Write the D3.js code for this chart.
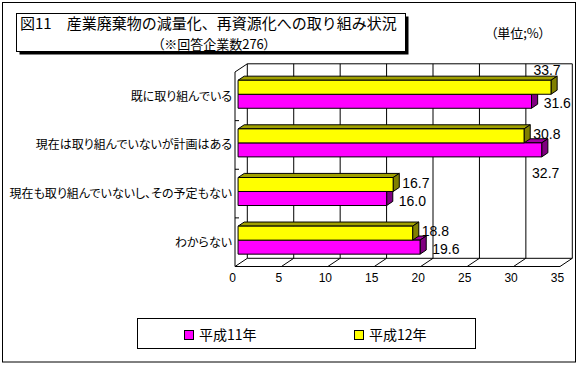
<!DOCTYPE html>
<html>
<head>
<meta charset="utf-8">
<script src="https://cdn.jsdelivr.net/npm/d3@7"></script>
<style>
    body { margin: 0; background: #fff; }
    svg text { font-family: "Noto Sans CJK JP", sans-serif; font-feature-settings: "palt"; fill: #000; }
    svg text.num { font-family: "Liberation Sans", Arial, sans-serif; font-feature-settings: normal; }
    svg text.title { font-feature-settings: normal; }
</style>
</head>
<body>
<svg id="chart" width="580" height="366"></svg>
<script>
/* ------------------------- DATA ------------------------- */

let categories = ["既に取り組んでいる", "現在は取り組んでいないが計画はある", "現在も取り組んでいないし、その予定もない", "わからない"]
let seriesNames = ["平成11年", "平成12年"]
let h11 = [31.6, 32.7, 16.0, 19.6]
let h12 = [33.7, 30.8, 16.7, 18.8]
let tickValues = [0, 5, 10, 15, 20, 25, 30, 35]

let colors = { "平成11年": "#ff00ff", "平成12年": "#ffff00" }
let sideColors = { "平成11年": "#800080", "平成12年": "#808000" }
let topColors = { "平成11年": "#a000a0", "平成12年": "#a0a000" }

/* ------------------------- LAYOUT ------------------------- */

let svg = d3.select("#chart")

let front = { left: 235, right: 560, top: 72, bottom: 266.5 }
let depth = { dx: 12.3, dy: -8.2 }      // spostamento del piano posteriore
let barZ = [0.25, 0.75]                  // profondita' della barra (frazione)

let x = d3.scaleLinear().domain([0, 35]).range([front.left, front.right])
let y = d3.scaleBand().domain(categories).range([front.top, front.bottom])
// serie in basso = 平成11年, in alto = 平成12年
let ySeries = d3.scaleBand().domain(["平成12年", "平成11年"]).range([0, y.bandwidth()]).paddingOuter(0.736)

function proj(px, py, z) { return [px + depth.dx * z, py + depth.dy * z] }

/* ------------------------- FRAMES & TITLE ------------------------- */

svg.append("rect").attr("x", 2.5).attr("y", 2.5).attr("width", 573).attr("height", 359.5)
    .attr("fill", "#fff").attr("stroke", "#000")

svg.append("rect").attr("x", 19.5).attr("y", 16.5).attr("width", 389).attr("height", 38).attr("fill", "#000")
svg.append("rect").attr("x", 16.5).attr("y", 13.5).attr("width", 389).attr("height", 38)
    .attr("fill", "#fff").attr("stroke", "#000")

svg.append("text").attr("class", "title").attr("x", 20).attr("y", 29).attr("font-size", 15)
    .text("図11　産業廃棄物の減量化、再資源化への取り組み状況")
svg.append("text").attr("x", 214).attr("y", 49).attr("font-size", 13).attr("text-anchor", "middle")
    .text("（※回答企業数276）")
svg.append("text").attr("x", 518).attr("y", 38).attr("font-size", 13).attr("text-anchor", "middle")
    .text("（単位;%）")

/* ------------------------- WALLS & GRID ------------------------- */

let grid = svg.append("g").attr("stroke", "#000").attr("stroke-width", 1).attr("fill", "none")

// parete di fondo: linee verticali
grid.selectAll("line.back")
    .data(tickValues)
    .enter().append("line")
        .attr("x1", function (d) { return proj(x(d), 0, 1)[0] })
        .attr("x2", function (d) { return proj(x(d), 0, 1)[0] })
        .attr("y1", proj(0, front.top, 1)[1])
        .attr("y2", proj(0, front.bottom, 1)[1])

grid.append("line")
    .attr("x1", proj(x(0), 0, 1)[0]).attr("x2", proj(x(35), 0, 1)[0])
    .attr("y1", proj(0, front.top, 1)[1]).attr("y2", proj(0, front.top, 1)[1])
grid.append("line")
    .attr("x1", proj(x(0), 0, 1)[0]).attr("x2", proj(x(35), 0, 1)[0])
    .attr("y1", proj(0, front.bottom, 1)[1]).attr("y2", proj(0, front.bottom, 1)[1])

// pavimento: diagonali
grid.selectAll("line.floor")
    .data(tickValues)
    .enter().append("line")
        .attr("x1", function (d) { return x(d) })
        .attr("y1", front.bottom)
        .attr("x2", function (d) { return proj(x(d), front.bottom, 1)[0] })
        .attr("y2", proj(0, front.bottom, 1)[1])

grid.append("line").attr("x1", x(0)).attr("x2", x(35)).attr("y1", front.bottom).attr("y2", front.bottom)
grid.append("line").attr("x1", x(0)).attr("x2", x(0)).attr("y1", front.top).attr("y2", front.bottom)
grid.append("line").attr("x1", x(0)).attr("y1", front.top)
    .attr("x2", proj(x(0), front.top, 1)[0]).attr("y2", proj(x(0), front.top, 1)[1])

// tacche tra le categorie
grid.selectAll("line.cat")
    .data(categories.slice(1))
    .enter().append("line")
        .attr("x1", x(0)).attr("x2", x(0) + 4)
        .attr("y1", function (d) { return y(d) })
        .attr("y2", function (d) { return y(d) })

/* ------------------------- AXES ------------------------- */

let xAxis = svg.append("g")
    .attr("transform", "translate(-3," + front.bottom + ")")
    .call(d3.axisBottom(x).tickValues(tickValues).tickSize(0).tickPadding(6.5))
xAxis.select(".domain").remove()
xAxis.selectAll("text").attr("class", "num").attr("font-size", 12)
    .style("font-family", "'Liberation Sans', Arial, sans-serif")

svg.selectAll("text.cat")
    .data(categories)
    .enter().append("text")
        .attr("x", 232)
        .attr("y", function (d) { return y(d) + y.bandwidth() / 2 + 4.5 })
        .attr("text-anchor", "end")
        .attr("font-size", 12)
        .text(function (d) { return d })

/* ------------------------- BARS ------------------------- */

let bars = []
categories.forEach(function (c, i) {
    bars.push({ cat: c, serie: "平成11年", value: h11[i] })
    bars.push({ cat: c, serie: "平成12年", value: h12[i] })
})

function barFaces(d) {
    let y0 = y(d.cat) + ySeries(d.serie)
    let y1 = y0 + ySeries.bandwidth()
    let xe = x(d.value), xs = x(0)
    let p = function (px, py, z) { return proj(px, py, z).join(",") }
    let z0 = barZ[0], z1 = barZ[1]
    return {
        front: [p(xs, y0, z0), p(xe, y0, z0), p(xe, y1, z0), p(xs, y1, z0)].join(" "),
        top: [p(xs, y0, z0), p(xe, y0, z0), p(xe, y0, z1), p(xs, y0, z1)].join(" "),
        side: [p(xe, y0, z0), p(xe, y0, z1), p(xe, y1, z1), p(xe, y1, z0)].join(" ")
    }
}

let barGroups = svg.append("g").attr("class", "bars")
    .selectAll("g")
    .data(bars)
    .enter().append("g")

barGroups.append("polygon").attr("points", function (d) { return barFaces(d).top })
    .attr("fill", function (d) { return topColors[d.serie] }).attr("stroke", "#000")
barGroups.append("polygon").attr("points", function (d) { return barFaces(d).side })
    .attr("fill", function (d) { return sideColors[d.serie] }).attr("stroke", "#000")
barGroups.append("polygon").attr("points", function (d) { return barFaces(d).front })
    .attr("fill", function (d) { return colors[d.serie] }).attr("stroke", "#000")

/* ------------------------- VALUE LABELS ------------------------- */

let labels = svg.append("g").attr("class", "labels")
    .selectAll("text")
    .data(bars)
    .enter().append("text")
        .attr("class", "num")
        .attr("font-size", 14)
        .text(function (d) { return d.value.toFixed(1) })

labels.each(function (d) {
    let t = d3.select(this)
    let w = this.getComputedTextLength()
    let isUpper = d.serie == "平成12年"
    let y0 = y(d.cat) + ySeries(d.serie)
    let yc = proj(0, y0 + ySeries.bandwidth() / 2, barZ[0])[1]
    let frontEnd = proj(x(d.value), 0, barZ[0])[0]
    let backEnd = proj(x(d.value), 0, barZ[1])[0]
    let lx = backEnd + (isUpper ? 3 : 6)
    if (lx + w <= 572) {
        t.attr("x", lx).attr("y", yc + (isUpper ? -2 : 2) + 5)
    } else if (isUpper) {
        let yTop = proj(0, y0, barZ[1])[1]
        t.attr("x", frontEnd - 4).attr("text-anchor", "middle").attr("y", yTop - 1)
    } else {
        t.attr("x", frontEnd + 4).attr("text-anchor", "middle").attr("y", y0 + ySeries.bandwidth() + 19)
    }
})

/* ------------------------- LEGEND ------------------------- */

let legend = svg.append("g")
legend.append("rect").attr("x", 137.5).attr("y", 318.5).attr("width", 338).attr("height", 30)
    .attr("fill", "#fff").attr("stroke", "#000")

let legendX = d3.scalePoint().domain(seriesNames).range([184, 354])

let items = legend.selectAll("g.item")
    .data(seriesNames)
    .enter().append("g")
        .attr("transform", function (d) { return "translate(" + legendX(d) + ",330)" })

items.append("rect").attr("x", 0.5).attr("y", 0.5).attr("width", 9).attr("height", 9)
    .attr("fill", function (d) { return colors[d] }).attr("stroke", "#000")
items.append("text").attr("x", 15).attr("y", 10).attr("font-size", 14)
    .text(function (d) { return d })
</script>
</body>
</html>
